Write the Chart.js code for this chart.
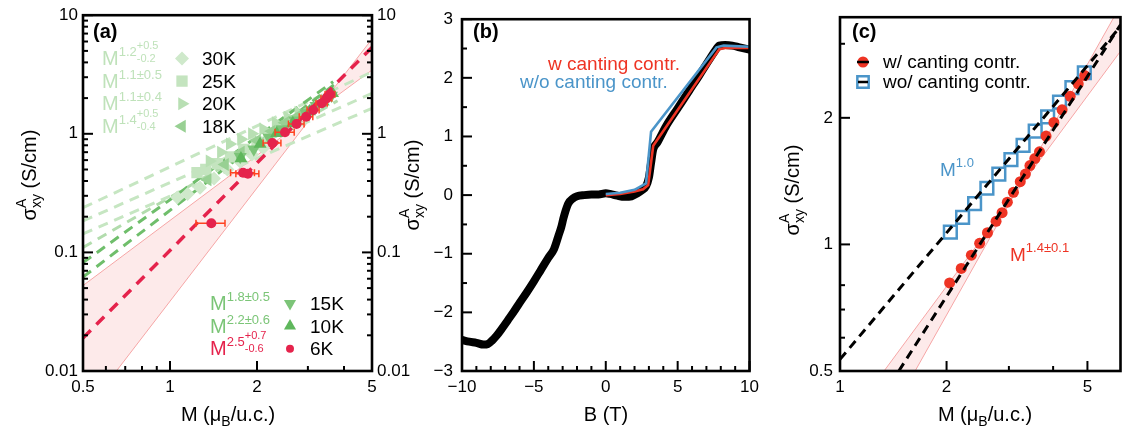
<!DOCTYPE html>
<html>
<head>
<meta charset="utf-8">
<script src="https://cdn.jsdelivr.net/npm/chart.js@4.4.1/dist/chart.umd.min.js"></script>
<style>
  html, body { margin: 0; padding: 0; background: #fff; }
  #wrap { position: relative; width: 1132px; height: 435px; overflow: hidden; }
  canvas { position: absolute; top: 0; }
</style>
</head>
<body>
<div id="wrap">
  <canvas id="ca" width="420" height="435" style="left:0px"></canvas>
  <canvas id="cb" width="370" height="435" style="left:395px"></canvas>
  <canvas id="cc" width="362" height="435" style="left:770px"></canvas>
</div>
<script>
// ================= panel (a): sigma vs M, log-log =================
const aXTicks = [0.5, 1, 2, 5];
const aXLabels = ['0.5', '1', '2', '5'];
const aXMinor = [0.6, 0.7, 0.8, 0.9, 3, 4];
const aYTicks = [0.01, 0.1, 1, 10];
const aYLabels = ['0.01', '0.1', '1', '10'];
const aYMinor = [0.02, 0.03, 0.04, 0.05, 0.06, 0.07, 0.08, 0.09,
                 0.2, 0.3, 0.4, 0.5, 0.6, 0.7, 0.8, 0.9,
                 2, 3, 4, 5, 6, 7, 8, 9];

// 30 K (diamonds)
const m30 = [1.06, 1.15, 1.27, 1.42, 1.58, 1.75, 1.92, 2.10];
const s30 = [0.29, 0.31, 0.35, 0.42, 0.50, 0.58, 0.67, 0.76];
// 25 K (squares)
const m25 = [1.24, 1.33, 1.46, 1.62, 1.80, 2.00, 2.20, 2.42];
const s25 = [0.47, 0.50, 0.56, 0.64, 0.74, 0.85, 0.97, 1.08];
// 20 K (right triangles)
const m20 = [1.37, 1.50, 1.61, 1.76, 1.92, 2.10, 2.32, 2.55, 2.78];
const s20 = [0.59, 0.70, 0.82, 0.90, 1.00, 1.10, 1.24, 1.38, 1.52];
// 18 K (left triangles)
const m18 = [1.35, 1.55, 1.76, 2.00, 2.25, 2.50, 2.78, 3.05, 3.30];
const s18 = [0.41, 0.55, 0.70, 0.88, 1.05, 1.24, 1.42, 1.62, 1.82];
// 15 K (down triangles)
const m15 = [1.75, 1.95, 2.20, 2.45, 2.70, 2.95, 3.20, 3.45, 3.62];
const s15 = [0.64, 0.74, 0.93, 1.10, 1.30, 1.50, 1.72, 1.95, 2.10];
// 10 K (up triangles)
const m10 = [1.76, 2.05, 2.34, 2.66, 3.04, 3.39, 3.65];
const s10 = [0.62, 0.82, 1.01, 1.23, 1.54, 1.86, 2.20];
// 6 K (circles with horizontal error bars)
const m6 = [1.39, 1.79, 1.86, 2.26, 2.50, 2.74, 2.96, 3.13, 3.35, 3.48, 3.58];
const s6 = [0.176, 0.47, 0.46, 0.836, 1.03, 1.21, 1.39, 1.59, 1.81, 1.99, 2.15];
const m6Err = [0.16, 0.17, 0.17, 0.16, 0.19, 0.17, 0.16, 0.15, 0.15, 0.15, 0.14];

// power-law fits, [M, sigma] end points
const fit30 = [[0.5, 0.238], [5, 3.33]];
const fit25 = [[0.5, 0.184], [5, 2.19]];
const fit20 = [[0.5, 0.143], [5, 1.64]];
const fit18 = [[0.5, 0.110], [3.8, 1.90]];
const fit15 = [[0.5, 0.082], [3.67, 2.75]];
const fit10 = [[0.5, 0.062], [3.70, 2.60]];
const fit6 = [[0.5, 0.019], [5, 5.35]];
// confidence band of the 6 K exponent
const band6M = [0.5, 3.2, 5];
const band6Hi = [0.0525, 1.55, 6.3];
const band6Lo = [0.0043, 1.55, 3.45];

// ================= panel (b): sigma vs B =================
const bXTicks = [-10, -5, 0, 5, 10];
const bXLabels = ['\u221210', '\u22125', '0', '5', '10'];
const bXMinor = [-9, -8, -7, -6, -4, -3, -2, -1, 1, 2, 3, 4, 6, 7, 8, 9];
const bYTicks = [-3, -2, -1, 0, 1, 2, 3];
const bYLabels = ['\u22123', '\u22122', '\u22121', '0', '1', '2', '3'];
const bYMinor = [-2.5, -1.5, -0.5, 0.5, 1.5, 2.5];

const bDataB = [-10, -9.5, -9, -8.5, -8.2, -7.9, -7.6, -7.2, -6.8, -6.4, -6, -5.5, -5, -4.5, -4, -3.6,
                -3.3, -3.1, -2.95, -2.8, -2.6, -2.3, -2.0, -1.5, -1.0, -0.5, 0,
                0.3, 0.8, 1.3, 1.8, 2.2, 2.5, 2.8, 3.0, 3.15, 3.3, 3.6, 4.2, 5, 5.8, 6.5, 7.2, 7.6, 7.9,
                8.3, 8.8, 9.3, 10];
const bDataS = [-2.47, -2.50, -2.52, -2.55, -2.54, -2.48, -2.40, -2.27, -2.13, -1.99, -1.84, -1.66, -1.47, -1.27, -1.07, -0.92,
                -0.70, -0.55, -0.40, -0.27, -0.14, -0.06, -0.02, 0.0, 0.01, 0.01, 0.03,
                0.02, -0.01, -0.03, -0.02, 0.03, 0.08, 0.15, 0.30, 0.55, 0.78, 0.90, 1.18, 1.48, 1.78, 2.04, 2.31, 2.46, 2.55,
                2.56, 2.55, 2.52, 2.48];
const bWithB = [0, 1, 2, 2.6, 2.95, 3.3, 7.9, 8.3, 10];
const bWithS = [0.0, 0.02, 0.06, 0.10, 0.17, 0.84, 2.49, 2.51, 2.51];
const bWoB = [0, 1, 2, 2.8, 3.15, 7.7, 8.2, 10];
const bWoS = [0.02, 0.04, 0.09, 0.20, 1.08, 2.52, 2.55, 2.53];

// ================= panel (c): sigma vs M with / without canting =================
const cXTicks = [1, 2, 5];
const cXLabels = ['1', '2', '5'];
const cXMinor = [3, 4];
const cYTicks = [0.5, 1, 2];
const cYLabels = ['0.5', '1', '2'];
const cYMinor = [0.6, 0.7, 0.8, 3];

const cWithM = [2.04, 2.20, 2.35, 2.48, 2.61, 2.76, 2.87, 2.97, 3.09, 3.23, 3.34, 3.44, 3.55, 3.66, 3.82, 4.02, 4.24, 4.47, 4.71, 4.91];
const cWithS = [0.81, 0.877, 0.943, 1.006, 1.066, 1.135, 1.19, 1.26, 1.33, 1.41, 1.47, 1.54, 1.60, 1.66, 1.81, 1.95, 2.09, 2.25, 2.41, 2.52];
const cWoM = [2.05, 2.22, 2.40, 2.60, 2.81, 3.04, 3.29, 3.56, 3.86, 4.17, 4.52, 4.90];
const cWoS = [1.07, 1.16, 1.25, 1.36, 1.47, 1.59, 1.72, 1.86, 2.01, 2.18, 2.36, 2.56];
const cFitWith = [[1.466, 0.5], [6.2, 3.33]];
const cFitWo = [[1.0, 0.533], [6.2, 3.30]];
const cBandM = [1.2, 3.1, 6.2];
const cBandHi = [0.444, 1.31, 3.70];
const cBandLo = [0.316, 1.31, 2.88];

// ---------------- helpers ----------------
const FF = '"Liberation Sans", Arial, Helvetica, sans-serif';
const zip = (xs, ys) => xs.map((x, i) => ({ x, y: ys[i] }));
const pts = arr => arr.map(p => ({ x: p[0], y: p[1] }));
const fnt = q => (q.b ? 'bold ' : '') + (q.s || 19) + 'px ' + FF;

// draws a run of text pieces (with super/subscripts) starting at x, baseline y
function rich(ctx, x, y, parts, align, color) {
  const items = parts.map(p => {
    const list = p.stack || [p];
    const w = Math.max(...list.map(q => { ctx.font = fnt(q); return ctx.measureText(q.t).width; }));
    return { list, w };
  });
  const total = items.reduce((s, it) => s + it.w, 0);
  let cx = align === 'center' ? x - total / 2 : (align === 'right' ? x - total : x);
  ctx.textAlign = 'left';
  ctx.textBaseline = 'alphabetic';
  items.forEach(it => {
    it.list.forEach(q => {
      ctx.font = fnt(q);
      ctx.fillStyle = q.c || color || '#000';
      ctx.fillText(q.t, cx + (q.dx || 0), y + (q.dy || 0));
    });
    cx += it.w;
  });
}

function axisTitleY(ctx, cx, cy, parts) {
  ctx.save();
  ctx.translate(cx, cy);
  ctx.rotate(-Math.PI / 2);
  rich(ctx, 0, 0, parts, 'center', '#000');
  ctx.restore();
}

const sigmaTitle = [{ t: '\u03c3', s: 20 },
  { stack: [{ t: 'A', s: 14, dy: -10 }, { t: 'xy', s: 14, dy: 5 }] },
  { t: ' (S/cm)', s: 20 }];
const mTitle = [{ t: 'M (\u03bc', s: 20 }, { t: 'B', s: 14, dy: 5 }, { t: '/u.c.)', s: 20 }];

// inward tick marks and the frame
function frame(chart, spec) {
  const { ctx, chartArea: a, scales } = chart;
  const xs = scales.x, ys = scales.y;
  ctx.save();
  ctx.strokeStyle = '#000';
  ctx.lineWidth = 2;
  const seg = (x0, y0, x1, y1) => { ctx.beginPath(); ctx.moveTo(x0, y0); ctx.lineTo(x1, y1); ctx.stroke(); };
  spec.xMajor.forEach(v => { const p = xs.getPixelForValue(v); seg(p, a.bottom, p, a.bottom - 10); });
  spec.xMinor.forEach(v => { const p = xs.getPixelForValue(v); seg(p, a.bottom, p, a.bottom - 5); });
  spec.yMajor.forEach(v => {
    const p = ys.getPixelForValue(v);
    seg(a.left, p, a.left + 10, p);
    if (spec.right) seg(a.right, p, a.right - 10, p);
  });
  spec.yMinor.forEach(v => {
    const p = ys.getPixelForValue(v);
    seg(a.left, p, a.left + 5, p);
    if (spec.right) seg(a.right, p, a.right - 5, p);
  });
  ctx.lineWidth = 2.6;
  ctx.strokeRect(a.left, a.top, a.right - a.left, a.bottom - a.top);
  ctx.restore();
}

function marker(ctx, style, x, y, r, rot, fill, stroke, bw) {
  ctx.save();
  ctx.fillStyle = fill;
  ctx.strokeStyle = stroke || fill;
  ctx.lineWidth = bw || 0;
  Chart.helpers.drawPoint(ctx, { pointStyle: style, radius: r, rotation: rot || 0, borderWidth: bw || 0 }, x, y);
  ctx.restore();
}

function scaleCfg(type, pos, min, max, majors, labels, size, pad, fit) {
  return {
    type, position: pos, min, max,
    grid: { display: false, drawTicks: false, tickLength: 0 }, border: { display: false },
    afterBuildTicks: s => { s.ticks = majors.map(v => ({ value: v })); },
    afterFit: fit,
    ticks: {
      autoSkip: false, maxRotation: 0, padding: pad, color: '#000',
      font: { family: FF, size },
      callback: (v, i) => labels[i]
    }
  };
}

const baseOpts = {
  responsive: false, animation: false, events: [],
  plugins: { legend: { display: false }, tooltip: { enabled: false }, filler: { propagate: false } }
};

// ---------------- colours ----------------
const C30 = '#cfe9cb', C25 = '#c4e4bf', C20 = '#b8dfb3', C18 = '#98d093', C15 = '#7cc478', C10 = '#5fb75c';
const CLightTxt = '#bfe2ba', CMedTxt = '#7bc577', CFitLight = '#c6e6c2', CFitMed = '#6fbe6b';
const C6 = '#e5234c', CErr = '#ff4321';
const CRed = '#ee3424', CBlue = '#4b95c9';

// ================= chart (a) =================
const lineDs = (data, color, w, dash, order) => ({
  type: 'scatter', data, showLine: true, borderColor: color, borderWidth: w,
  borderDash: dash, pointRadius: 0, fill: false, order
});
const ptDs = (data, style, rot, r, color, order) => ({
  type: 'scatter', data, showLine: false, pointStyle: style, pointRotation: rot,
  pointRadius: r, backgroundColor: color, borderColor: color, borderWidth: 0, order
});

const dsA = [
  { type: 'scatter', data: zip(band6M, band6Hi), showLine: true, borderColor: '#f6a6a6', borderWidth: 1,
    pointRadius: 0, fill: false, order: 30 },
  { type: 'scatter', data: zip(band6M, band6Lo), showLine: true, borderColor: '#f6a6a6', borderWidth: 1,
    pointRadius: 0, fill: '-1', backgroundColor: 'rgba(247,170,170,0.25)', order: 29 },
  lineDs(pts(fit30), CFitLight, 3, [10, 7], 20),
  lineDs(pts(fit25), CFitLight, 3, [10, 7], 20),
  lineDs(pts(fit20), CFitLight, 3, [10, 7], 20),
  lineDs(pts(fit18), '#b2dcad', 3, [10, 7], 20),
  lineDs(pts(fit15), CFitMed, 3, [10, 7], 19),
  lineDs(pts(fit10), CFitMed, 3, [10, 7], 19),
  ptDs(zip(m30, s30), 'rectRot', 0, 7, C30, 15),
  ptDs(zip(m25, s25), 'rect', 0, 8, C25, 14),
  ptDs(zip(m20, s20), 'triangle', 90, 7.5, C20, 13),
  ptDs(zip(m18, s18), 'triangle', -90, 7.5, C18, 12),
  ptDs(zip(m15, s15), 'triangle', 180, 7.5, C15, 11),
  ptDs(zip(m10, s10), 'triangle', 0, 7.5, C10, 10),
  lineDs(pts(fit6), C6, 3.5, [11, 8], 9),
  ptDs(zip(m6, s6), 'circle', 0, 5, C6, 5)
];
const idx6 = dsA.length - 1;

new Chart(document.getElementById('ca'), {
  type: 'scatter',
  data: { datasets: dsA },
  options: Object.assign({}, baseOpts, {
    layout: { padding: { left: 0, right: 0, top: 13, bottom: 0 } },
    scales: {
      x: scaleCfg('logarithmic', 'bottom', 0.5, 5, aXTicks, aXLabels, 17, 6, s => { s.height = 64; }),
      y: scaleCfg('logarithmic', 'left', 0.01, 10, aYTicks, aYLabels, 17, 5, s => { s.width = 83; }),
      y2: scaleCfg('logarithmic', 'right', 0.01, 10, aYTicks, aYLabels, 17, 5, s => { s.width = 48; })
    }
  }),
  plugins: [{
    id: 'panelA',
    beforeDatasetDraw(chart, args) {
      if (args.index !== idx6) return;
      const { ctx, scales: { x, y } } = chart;
      ctx.save();
      ctx.strokeStyle = CErr; ctx.lineWidth = 1.5;
      m6.forEach((m, i) => {
        const py = y.getPixelForValue(s6[i]);
        const x0 = x.getPixelForValue(m - m6Err[i]), x1 = x.getPixelForValue(m + m6Err[i]);
        ctx.beginPath();
        ctx.moveTo(x0, py); ctx.lineTo(x1, py);
        ctx.moveTo(x0, py - 3.5); ctx.lineTo(x0, py + 3.5);
        ctx.moveTo(x1, py - 3.5); ctx.lineTo(x1, py + 3.5);
        ctx.stroke();
      });
      ctx.restore();
    },
    afterDraw(chart) {
      const { ctx } = chart;
      frame(chart, { xMajor: [1, 2], xMinor: aXMinor, yMajor: aYTicks, yMinor: aYMinor, right: true });
      rich(ctx, 93, 38, [{ t: '(a)', s: 20, b: true }], 'left', '#000');
      // upper legend
      const up = [
        { ex: [{ t: '1.2', s: 13, dy: -9 }, { stack: [{ t: '+0.5', s: 11, dy: -16 }, { t: '-0.2', s: 11, dy: -3 }] }],
          st: 'rectRot', rot: 0, r: 7, c: C30, k: '30K' },
        { ex: [{ t: '1.1\u00b10.5', s: 13, dy: -9 }], st: 'rect', rot: 0, r: 8, c: C25, k: '25K' },
        { ex: [{ t: '1.1\u00b10.4', s: 13, dy: -9 }], st: 'triangle', rot: 90, r: 7.5, c: C20, k: '20K' },
        { ex: [{ t: '1.4', s: 13, dy: -9 }, { stack: [{ t: '+0.5', s: 11, dy: -16 }, { t: '-0.4', s: 11, dy: -3 }] }],
          st: 'triangle', rot: -90, r: 7.5, c: C18, k: '18K' }
      ];
      up.forEach((row, i) => {
        const yb = 65 + i * 22.6;
        rich(ctx, 102, yb, [{ t: 'M', s: 20 }].concat(row.ex), 'left', CLightTxt);
        marker(ctx, row.st, 182, yb - 6.5, row.r, row.rot, row.c);
        rich(ctx, 202, yb, [{ t: row.k, s: 19 }], 'left', '#000');
      });
      // lower legend
      const low = [
        { ex: [{ t: '1.8\u00b10.5', s: 13, dy: -9 }], col: CMedTxt, st: 'triangle', rot: 180, r: 7, c: C15, k: '15K' },
        { ex: [{ t: '2.2\u00b10.6', s: 13, dy: -9 }], col: CMedTxt, st: 'triangle', rot: 0, r: 7, c: C10, k: '10K' },
        { ex: [{ t: '2.5', s: 13, dy: -9 }, { stack: [{ t: '+0.7', s: 11, dy: -16 }, { t: '-0.6', s: 11, dy: -3 }] }],
          col: C6, st: 'circle', r: 4, c: C6, k: '6K' }
      ];
      low.forEach((row, i) => {
        const yb = 310 + i * 22.6;
        rich(ctx, 210, yb, [{ t: 'M', s: 20 }].concat(row.ex), 'left', row.col);
        marker(ctx, row.st, 290, yb - 6.5, row.r, row.rot, row.c);
        rich(ctx, 310, yb, [{ t: row.k, s: 19 }], 'left', '#000');
      });
      axisTitleY(ctx, 36, 175, sigmaTitle);
      rich(ctx, 228, 421, mTitle, 'center', '#000');
    }
  }]
});

// ================= chart (b) =================
new Chart(document.getElementById('cb'), {
  type: 'scatter',
  data: {
    datasets: [
      { data: zip(bWoB, bWoS), showLine: true, borderColor: CBlue, borderWidth: 2.6, pointRadius: 0, order: 1 },
      { data: zip(bWithB, bWithS), showLine: true, borderColor: CRed, borderWidth: 2.6, pointRadius: 0, order: 2 },
      { data: zip(bDataB, bDataS), showLine: true, borderColor: '#000', borderWidth: 8, pointRadius: 0,
        borderCapStyle: 'round', borderJoinStyle: 'round', cubicInterpolationMode: 'monotone', order: 3 }
    ]
  },
  options: Object.assign({}, baseOpts, {
    layout: { padding: { left: 0, right: 15, top: 13, bottom: 0 } },
    scales: {
      x: scaleCfg('linear', 'bottom', -10, 10, bXTicks, bXLabels, 17, 6, s => { s.height = 64; }),
      y: scaleCfg('linear', 'left', -3, 3, bYTicks, bYLabels, 17, 9, s => { s.width = 67; })
    }
  }),
  plugins: [{
    id: 'panelB',
    afterDraw(chart) {
      const { ctx } = chart;
      frame(chart, { xMajor: bXTicks, xMinor: bXMinor, yMajor: bYTicks, yMinor: bYMinor });
      rich(ctx, 78, 38, [{ t: '(b)', s: 20, b: true }], 'left', '#000');
      rich(ctx, 153, 70, [{ t: 'w canting contr.', s: 19 }], 'left', CRed);
      rich(ctx, 125, 88, [{ t: 'w/o canting contr.', s: 19 }], 'left', CBlue);
      axisTitleY(ctx, 24, 185, sigmaTitle);
      rich(ctx, 211, 421, [{ t: 'B (T)', s: 20 }], 'center', '#000');
    }
  }]
});

// ================= chart (c) =================
new Chart(document.getElementById('cc'), {
  type: 'scatter',
  data: {
    datasets: [
      { data: zip(cBandM, cBandHi), showLine: true, borderColor: '#f6a6a6', borderWidth: 1, pointRadius: 0, fill: false, order: 30 },
      { data: zip(cBandM, cBandLo), showLine: true, borderColor: '#f6a6a6', borderWidth: 1, pointRadius: 0,
        fill: '-1', backgroundColor: 'rgba(247,170,170,0.25)', order: 29 },
      { data: pts(cFitWith), showLine: true, borderColor: '#000', borderWidth: 3, borderDash: [9, 6], pointRadius: 0, order: 1 },
      { data: pts(cFitWo), showLine: true, borderColor: '#000', borderWidth: 3, borderDash: [9, 6], pointRadius: 0, order: 1 },
      { data: zip(cWoM, cWoS), showLine: false, pointStyle: 'rect', pointRadius: 9, borderColor: CBlue,
        borderWidth: 2.5, backgroundColor: 'rgba(0,0,0,0)', order: 6 },
      { data: zip(cWithM, cWithS), showLine: false, pointStyle: 'circle', pointRadius: 5.5, borderWidth: 0,
        backgroundColor: CRed, order: 5 }
    ]
  },
  options: Object.assign({}, baseOpts, {
    layout: { padding: { left: 0, right: 2, top: 13, bottom: 0 } },
    scales: {
      x: scaleCfg('logarithmic', 'bottom', 1, 6.2, cXTicks, cXLabels, 17, 6, s => { s.height = 64; }),
      y: scaleCfg('logarithmic', 'left', 0.5, 3.47, cYTicks, cYLabels, 17, 7, s => { s.width = 70; })
    }
  }),
  plugins: [{
    id: 'panelC',
    afterDraw(chart) {
      const { ctx } = chart;
      frame(chart, { xMajor: [2, 5], xMinor: cXMinor, yMajor: [1, 2], yMinor: cYMinor });
      rich(ctx, 82, 38, [{ t: '(c)', s: 20, b: true }], 'left', '#000');
      // legend
      marker(ctx, 'circle', 93, 62, 5.5, 0, CRed);
      ctx.save(); ctx.strokeStyle = '#000'; ctx.lineWidth = 2.5;
      ctx.beginPath(); ctx.moveTo(87, 62); ctx.lineTo(99, 62); ctx.stroke(); ctx.restore();
      rich(ctx, 113, 68, [{ t: 'w/ canting contr.', s: 19 }], 'left', '#000');
      marker(ctx, 'rect', 93, 82, 8, 0, 'rgba(0,0,0,0)', CBlue, 2.5);
      ctx.save(); ctx.strokeStyle = '#000'; ctx.lineWidth = 2.5;
      ctx.beginPath(); ctx.moveTo(88, 82); ctx.lineTo(98, 82); ctx.stroke(); ctx.restore();
      rich(ctx, 113, 88, [{ t: 'wo/ canting contr.', s: 19 }], 'left', '#000');
      rich(ctx, 170, 176, [{ t: 'M', s: 19 }, { t: '1.0', s: 13, dy: -9 }], 'left', CBlue);
      rich(ctx, 240, 261, [{ t: 'M', s: 19 }, { t: '1.4\u00b10.1', s: 13, dy: -9 }], 'left', CRed);
      axisTitleY(ctx, 29, 190, sigmaTitle);
      rich(ctx, 215, 421, mTitle, 'center', '#000');
    }
  }]
});
</script>
</body>
</html>
